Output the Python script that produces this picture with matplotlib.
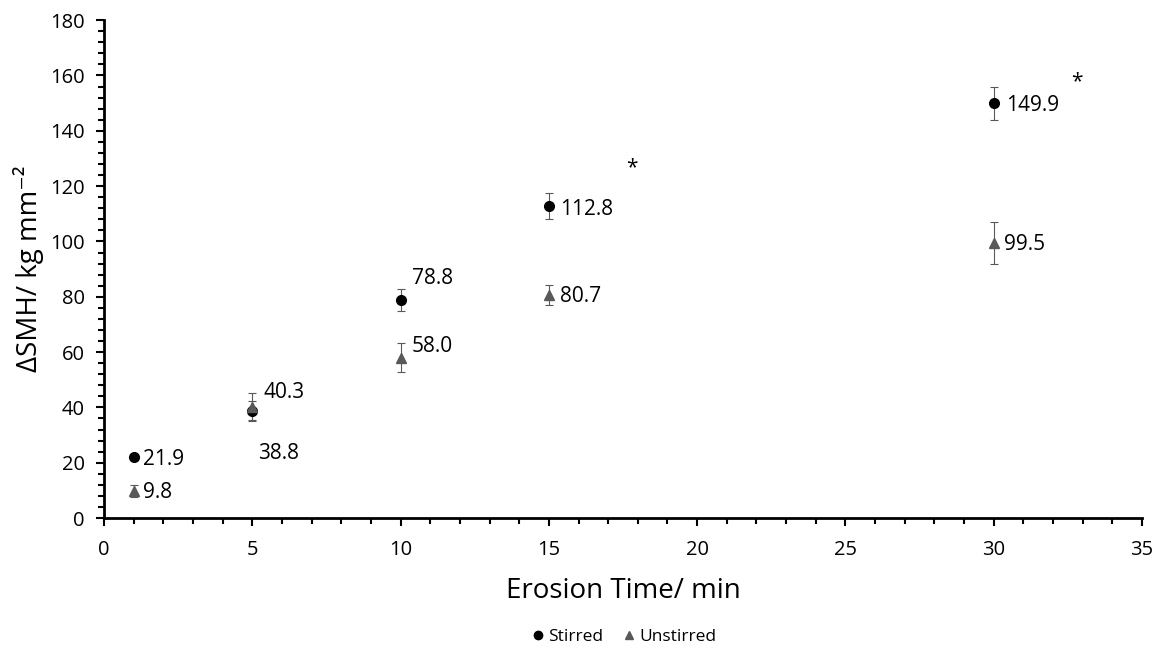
import matplotlib.pyplot as plt
from matplotlib.ticker import MultipleLocator
from matplotlib.lines import Line2D

plt.rcParams['font.family'] = ['Open Sans', 'DejaVu Sans']

# erosion times (min)
times = [1, 5, 10, 15, 30]

# stirred series
stirred = [21.9, 38.8, 78.8, 112.8, 149.9]
stirred_err = [0.5, 3.6, 4.0, 4.7, 6.0]

# unstirred series
unstirred = [9.8, 40.3, 58.0, 80.7, 99.5]
unstirred_err = [2.2, 5.0, 5.2, 3.5, 7.7]

# label offsets in pixels (dx, dy) for each point
stirred_offsets = [(9, -2), (6, -43), (11, 22), (11, -3), (12, -2)]
unstirred_offsets = [(9, -2), (11, 14), (11, 11), (11, -2), (10, -2)]

# significance markers
star_x = [15, 30]
star_y = [112.8, 149.9]
star_offsets = [(83, 38), (83, 22)]

fig = plt.figure(figsize=(11.62, 6.5), dpi=100)
ax = fig.add_axes([0.0895, 0.203, 0.8933, 0.766])

grey = '#595959'
ax.errorbar(times, stirred, yerr=stirred_err, fmt='o', color='black', markersize=7,
            ecolor=grey, elinewidth=0.8, capsize=3, capthick=0.8, zorder=3)
ax.errorbar(times, unstirred, yerr=unstirred_err, fmt='^', color=grey, markersize=7,
            ecolor=grey, elinewidth=0.8, capsize=3, capthick=0.8, zorder=3)

pt = 0.72  # pixels -> points at 100 dpi
for x, y, (dx, dy) in zip(times, stirred, stirred_offsets):
    ax.annotate(f"{y:.1f}", (x, y), xytext=(dx * pt, dy * pt), textcoords='offset points',
                ha='left', va='center', fontsize=15)
for x, y, (dx, dy) in zip(times, unstirred, unstirred_offsets):
    ax.annotate(f"{y:.1f}", (x, y), xytext=(dx * pt, dy * pt), textcoords='offset points',
                ha='left', va='center', fontsize=15)
for x, y, (dx, dy) in zip(star_x, star_y, star_offsets):
    ax.annotate("*", (x, y), xytext=(dx * pt, dy * pt), textcoords='offset points',
                ha='center', va='center', fontsize=15)

ax.set_xlim(0, 35)
ax.set_ylim(0, 180)
ax.xaxis.set_major_locator(MultipleLocator(5))
ax.xaxis.set_minor_locator(MultipleLocator(1))
ax.yaxis.set_major_locator(MultipleLocator(20))
ax.yaxis.set_minor_locator(MultipleLocator(4))
ax.tick_params(which='major', direction='out', length=6, width=1.5, labelsize=14.5)
ax.tick_params(axis='x', which='major', pad=10)
ax.tick_params(axis='y', which='major', pad=8)
ax.tick_params(which='minor', direction='out', length=4, width=1.5)

for side in ['top', 'right']:
    ax.spines[side].set_visible(False)
for side in ['left', 'bottom']:
    ax.spines[side].set_linewidth(2)

ax.set_xlabel("Erosion Time/ min", fontsize=20, labelpad=12)
ax.set_ylabel("ΔSMH/ kg mm⁻²", fontsize=20, labelpad=4)

handles = [Line2D([], [], marker='o', color='black', linestyle='none', markersize=6),
           Line2D([], [], marker='^', color=grey, linestyle='none', markersize=6)]
ax.legend(handles, ['Stirred', 'Unstirred'], loc='center', bbox_to_anchor=(0.5, -0.239),
          ncol=2, frameon=False, fontsize=12.5, handletextpad=0.1, columnspacing=1.0,
          handlelength=1.0)

fig.savefig('out.png', dpi=100)
